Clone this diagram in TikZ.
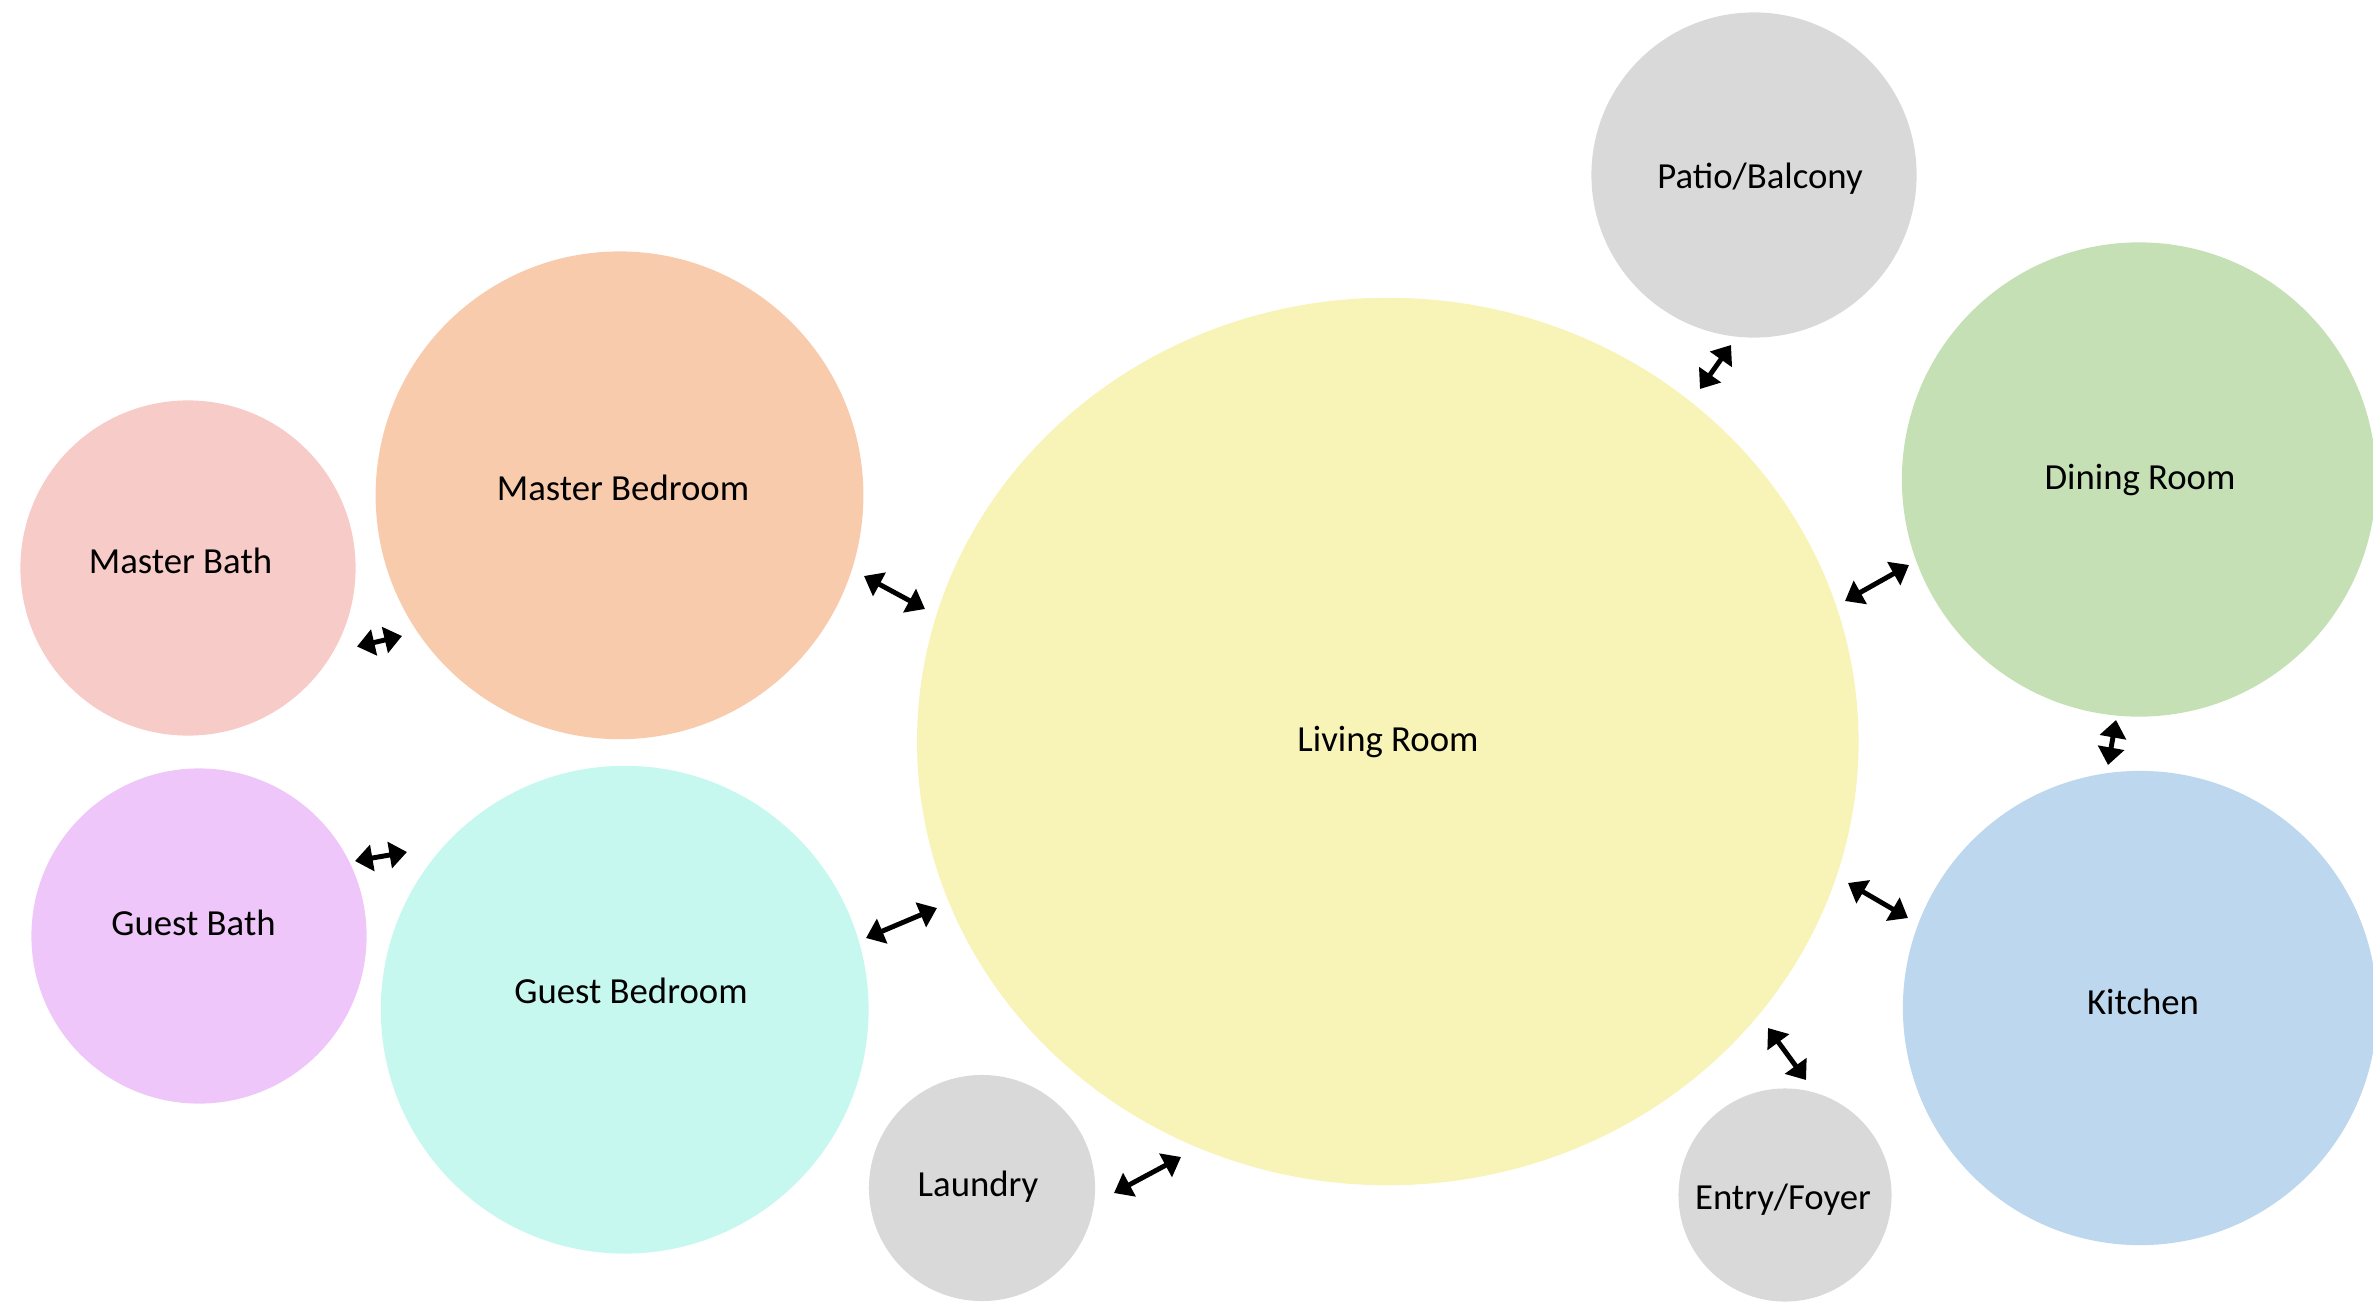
\documentclass[tikz,border=0pt]{standalone}
\usepackage{fontspec}
\setmainfont{Carlito}
\usetikzlibrary{arrows.meta,shapes.geometric}
\definecolor{cMBath}{HTML}{F7CBC7}
\definecolor{cMBed}{HTML}{F8CBAD}
\definecolor{cGBath}{HTML}{EFC6F9}
\definecolor{cGBed}{HTML}{C6F8F0}
\definecolor{cLiving}{HTML}{F8F3B7}
\definecolor{cDining}{HTML}{C5E0B4}
\definecolor{cKitchen}{HTML}{BDD7EE}
\definecolor{cGrey}{HTML}{D9D9D9}
\begin{document}
\begin{tikzpicture}[x=0.01cm,y=-0.01cm,
  room/.style={circle, inner sep=0pt, outer sep=0pt, draw=none},
  lab/.style={anchor=base, font=\fontsize{10.45}{12}\selectfont, text=black, inner sep=0pt},
  link/.style={{Triangle[length=5pt,width=7.4pt]}-{Triangle[length=5pt,width=7.4pt]}, line width=1.4pt, black}]
\useasboundingbox (0,0) rectangle (2373,1303);
% rooms
\node[room, fill=cMBath, minimum size=3.35cm] (mbath) at (188,568) {};
\node[room, fill=cMBed, minimum size=4.875cm] (mbed) at (619.5,495.3) {};
\node[room, fill=cGBath, minimum size=3.35cm] (gbath) at (199,936) {};
\node[room, fill=cGBed, minimum size=4.875cm] (gbed) at (624.7,1009.7) {};
\node[room, fill=cGrey, minimum size=2.26cm] (laundry) at (982,1188) {};
\node[ellipse, inner sep=0pt, draw=none, fill=cLiving, minimum width=9.41cm, minimum height=8.87cm] (living) at (1387.8,741.5) {};
\node[room, fill=cGrey, minimum size=3.25cm] (patio) at (1754,175) {};
\node[room, fill=cDining, minimum size=4.74cm] (dining) at (2139,479.5) {};
\node[room, fill=cKitchen, minimum size=4.74cm] (kitchen) at (2140,1008) {};
\node[room, fill=cGrey, minimum size=2.13cm] (entry) at (1785,1195) {};
% labels
\node[lab] (mbathL) at (180.5,573) {Master Bath};
\node[lab] (mbedL) at (623,500) {Master Bedroom};
\node[lab] (gbathL) at (193.5,935) {Guest Bath};
\node[lab] (gbedL) at (631,1003.5) {Guest Bedroom};
\node[lab] (laundryL) at (978,1196) {Laundry};
\node[lab] (livingL) at (1388,751) {Living Room};
\node[lab] (patioL) at (1760,188) {Patio/Balcony};
\node[lab] (diningL) at (2140,489.5) {Dining Room};
\node[lab] (kitchenL) at (2143,1014) {Kitchen};
\node[lab] (entryL) at (1783,1209) {Entry/Foyer};
% arrow end points
\coordinate (mbathA) at (357,646.5);  \coordinate (mbedA) at (402,636);
\coordinate (mbedB) at (864,576);     \coordinate (livingA) at (925,609);
\coordinate (gbathA) at (355,861);    \coordinate (gbedA) at (407,852);
\coordinate (gbedB) at (866,938);     \coordinate (livingB) at (937,908);
\coordinate (laundryA) at (1114,1193);\coordinate (livingC) at (1181,1157);
\coordinate (livingD) at (1700,389);  \coordinate (patioA) at (1731,345);
\coordinate (livingE) at (1845,601);  \coordinate (diningA) at (1909,565);
\coordinate (diningB) at (2116,720);  \coordinate (kitchenA) at (2108,765);
\coordinate (livingF) at (1848,883);  \coordinate (kitchenB) at (1908,918);
\coordinate (livingG) at (1768,1028); \coordinate (entryA) at (1806,1080);
% connectors
\draw[link] (mbathA) -- (mbedA);
\draw[link] (mbedB) -- (livingA);
\draw[link] (gbathA) -- (gbedA);
\draw[link] (gbedB) -- (livingB);
\draw[link] (laundryA) -- (livingC);
\draw[link] (livingD) -- (patioA);
\draw[link] (livingE) -- (diningA);
\draw[link] (diningB) -- (kitchenA);
\draw[link] (livingF) -- (kitchenB);
\draw[link] (livingG) -- (entryA);
\end{tikzpicture}
\end{document}
